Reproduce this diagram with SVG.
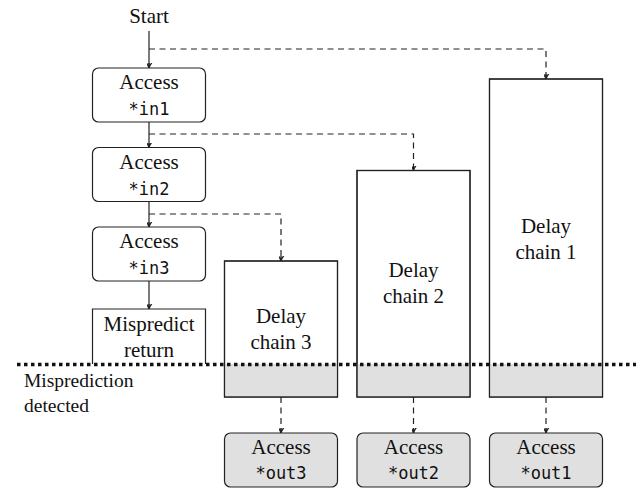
<svg xmlns="http://www.w3.org/2000/svg" width="636" height="489" viewBox="0 0 636 489">
<style>
.box{fill:#fff;stroke:#222;stroke-width:1.2}
.gbox{fill:#e0e0e0;stroke:#222;stroke-width:1.2}
.gray{fill:#e0e0e0;stroke:none}
.outline{fill:none;stroke:#222;stroke-width:1.2}
.t{font-family:"Liberation Serif","DejaVu Serif",serif;font-size:21px;fill:#111;text-anchor:middle}
.s{font-family:"Liberation Serif","DejaVu Serif",serif;font-size:19.5px;fill:#111}
.m{font-family:"DejaVu Sans Mono","Liberation Mono",monospace;font-size:17px;fill:#111;text-anchor:middle}
.solid{fill:none;stroke:#222;stroke-width:1.2;marker-end:url(#arr)}
.dash{fill:none;stroke:#222;stroke-width:1.2;stroke-dasharray:6 4.5;marker-end:url(#arr)}
</style>
<defs>
<marker id="arr" markerUnits="userSpaceOnUse" viewBox="-5 -8 10 10" refX="0" refY="0" markerWidth="10" markerHeight="10" orient="auto-start-reverse">
<path d="M-3.6,-6.5 Q-0.6,-2.5 0,0 Q0.6,-2.5 3.6,-6.5 M0,-5 L0,0" transform="rotate(-90)" fill="none" stroke="#222" stroke-width="1.3"/>
</marker>
</defs>
<text class="t" x="149" y="23">Start</text>
<g id="connectors">
<path class="solid" d="M149,31 V68"/>
<path class="solid" d="M149,122 V147.5"/>
<path class="solid" d="M149,201.5 V227"/>
<path class="solid" d="M149,281 V309"/>
<path class="dash" d="M149,49 H546 V79"/>
<path class="dash" d="M149,134 H413.5 V170.5"/>
<path class="dash" d="M149,214 H281 V261"/>
<path class="dash" d="M281,397 V433"/>
<path class="dash" d="M413.5,397 V433"/>
<path class="dash" d="M546,397 V433"/>
</g>
<g id="in1"><rect class="box" x="92.5" y="68" width="113" height="54" rx="6"/><text class="t" x="149" y="89">Access</text><text class="m" x="149" y="115">*in1</text></g>
<g id="in2"><rect class="box" x="92.5" y="147.5" width="113" height="54" rx="6"/><text class="t" x="149" y="168.5">Access</text><text class="m" x="149" y="194.5">*in2</text></g>
<g id="in3"><rect class="box" x="92.5" y="227" width="113" height="54" rx="6"/><text class="t" x="149" y="248">Access</text><text class="m" x="149" y="274">*in3</text></g>
<g id="mispredict"><path class="outline" d="M92.5,364 V309 H205.5 V364" style="fill:#fff"/><text class="t" x="149" y="331">Mispredict</text><text class="t" x="149" y="357">return</text></g>
<g id="chain3"><rect class="box" x="224.5" y="261" width="113" height="136"/><rect class="gray" x="225" y="364" width="112" height="32.5"/><rect class="outline" x="224.5" y="261" width="113" height="136"/><text class="t" x="281" y="323">Delay</text><text class="t" x="281" y="349">chain 3</text></g>
<g id="chain2"><rect class="box" x="357" y="170.5" width="113" height="226.5"/><rect class="gray" x="357.5" y="364" width="112" height="32.5"/><rect class="outline" x="357" y="170.5" width="113" height="226.5"/><text class="t" x="413.5" y="277">Delay</text><text class="t" x="413.5" y="303">chain 2</text></g>
<g id="chain1"><rect class="box" x="489.5" y="79" width="113" height="318"/><rect class="gray" x="490" y="364" width="112" height="32.5"/><rect class="outline" x="489.5" y="79" width="113" height="318"/><text class="t" x="546" y="233">Delay</text><text class="t" x="546" y="259">chain 1</text></g>
<g id="out3"><rect class="gbox" x="224.5" y="433" width="113" height="54" rx="6"/><text class="t" x="281" y="454">Access</text><text class="m" x="281" y="479">*out3</text></g>
<g id="out2"><rect class="gbox" x="357" y="433" width="113" height="54" rx="6"/><text class="t" x="413.5" y="454">Access</text><text class="m" x="413.5" y="479">*out2</text></g>
<g id="out1"><rect class="gbox" x="489.5" y="433" width="113" height="54" rx="6"/><text class="t" x="546" y="454">Access</text><text class="m" x="546" y="479">*out1</text></g>
<g id="detected">
<line x1="17" y1="364.5" x2="636" y2="364.5" stroke="#111" stroke-width="3.5" stroke-dasharray="3.5 3.5"/>
<text class="s" x="24" y="387">Misprediction</text>
<text class="s" x="24" y="412">detected</text>
</g>
</svg>
